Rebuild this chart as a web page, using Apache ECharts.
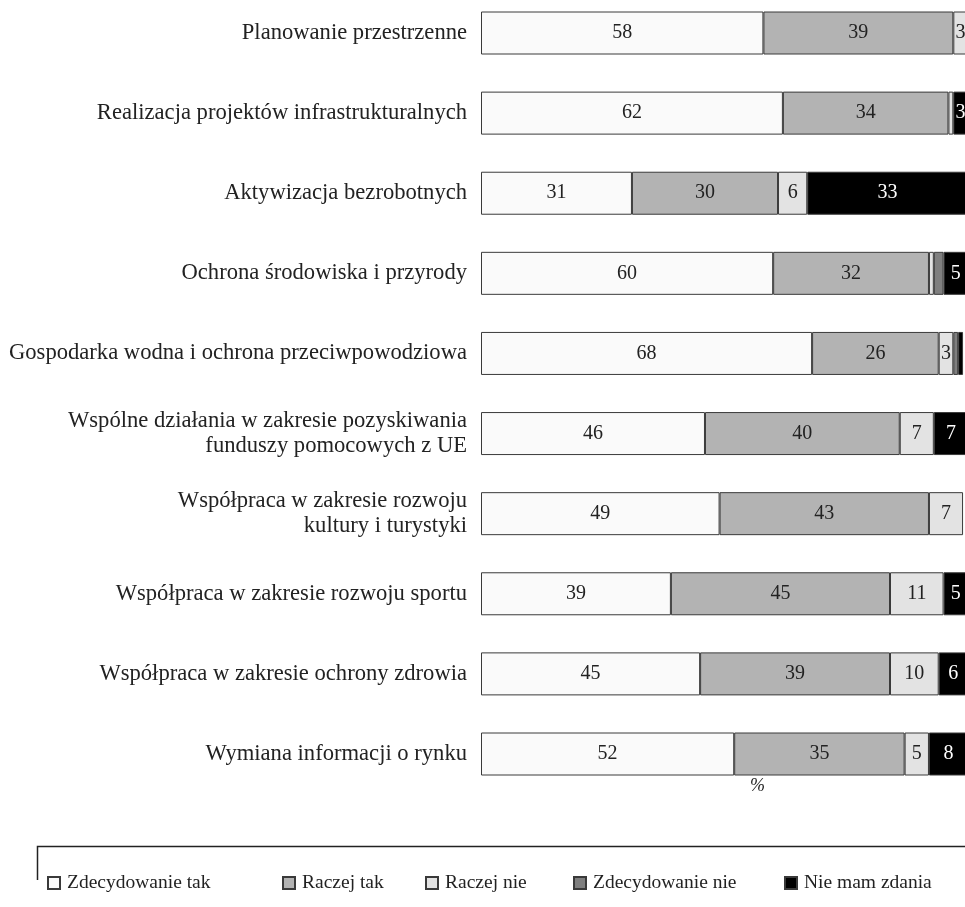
<!DOCTYPE html>
<html>
<head>
<meta charset="utf-8">
<script src="https://cdn.jsdelivr.net/npm/echarts@6/dist/echarts.min.js"></script>
<style>
  html, body { margin: 0; padding: 0; background: #ffffff; }
  #chart { width: 965px; height: 907px; }
</style>
</head>
<body>
<div id="chart"></div>
<script>
// Areas of cooperation (top to bottom)
const categories = [
  'Planowanie przestrzenne',
  'Realizacja projektów infrastrukturalnych',
  'Aktywizacja bezrobotnych',
  'Ochrona środowiska i przyrody',
  'Gospodarka wodna i ochrona przeciwpowodziowa',
  'Wspólne działania w zakresie pozyskiwania\nfunduszy pomocowych z UE',
  'Współpraca w zakresie rozwoju\nkultury i turystyki',
  'Współpraca w zakresie rozwoju sportu',
  'Współpraca w zakresie ochrony zdrowia',
  'Wymiana informacji o rynku'
];

// Answer shares, %
const zdecydowanieTak = [58, 62, 31, 60, 68, 46, 49, 39, 45, 52];
const raczejTak       = [39, 34, 30, 32, 26, 40, 43, 45, 39, 35];
const raczejNie       = [3, 1, 6, 1, 3, 7, 7, 11, 10, 5];
const zdecydowanieNie = [0, 0, 0, 2, 1, 0, 0, 0, 0, 0];
const nieMamZdania    = [0, 3, 33, 5, 1, 7, 0, 5, 6, 8];

const seriesNames = ['Zdecydowanie tak', 'Raczej tak', 'Raczej nie', 'Zdecydowanie nie', 'Nie mam zdania'];
const seriesData = [zdecydowanieTak, raczejTak, raczejNie, zdecydowanieNie, nieMamZdania];
const seriesColors = ['#fafafa', '#b3b3b3', '#e3e3e3', '#7f7f7f', '#000000'];
const labelColors = ['#222222', '#222222', '#222222', '#ffffff', '#ffffff'];

// x positions of the legend entries in the framed key below the chart
const legendLefts = [42, 277, 420, 568, 779];

const FONT = 'Liberation Serif';

const chart = echarts.init(document.getElementById('chart'), null, { renderer: 'canvas' });

const series = seriesNames.map((name, i) => ({
  name: name,
  type: 'bar',
  stack: 'total',
  barWidth: 43,
  clip: false,
  data: seriesData[i].map(v => (v === 0 ? '-' : v)),
  itemStyle: {
    color: seriesColors[i],
    borderColor: '#3a3a3a',
    borderWidth: 1
  },
  label: {
    show: true,
    position: 'inside',
    color: labelColors[i],
    fontFamily: FONT,
    fontSize: 20,
    formatter: p => (p.value >= 3 ? String(p.value) : '')
  },
  emphasis: { disabled: true },
  animation: false
}));

chart.setOption({
  backgroundColor: '#ffffff',
  animation: false,
  // the axis runs a little past the page edge, so 100% sits just outside it
  grid: {
    left: 481, right: 0, top: 33, height: 721,
    containLabel: false,
    outerBoundsMode: 'none'
  },
  xAxis: {
    type: 'value',
    min: 0,
    max: 99.4,
    show: false
  },
  yAxis: {
    type: 'category',
    inverse: true,
    boundaryGap: false,
    data: categories,
    axisLine: { show: false },
    axisTick: { show: false },
    splitLine: { show: false },
    axisLabel: {
      margin: 14,
      align: 'right',
      fontFamily: FONT,
      fontSize: 22.6,
      lineHeight: 25,
      color: '#222222'
    }
  },
  legend: seriesNames.map((name, i) => ({
    data: [name],
    left: legendLefts[i],
    top: 868,
    icon: 'rect',
    itemWidth: 12,
    itemHeight: 12,
    selectedMode: false,
    textStyle: { fontFamily: FONT, fontSize: 19.5, color: '#222222', padding: [0, 0, 0, 2] }
  })),
  graphic: [
    {
      type: 'text',
      left: 750,
      top: 777,
      style: { text: '%', font: 'italic 18px "Liberation Serif"', fill: '#222222' }
    },
    {
      type: 'polyline',
      shape: { points: [[37.5, 880], [37.5, 846.5], [966, 846.5]] },
      style: { stroke: '#222222', lineWidth: 1.5, fill: null }
    }
  ],
  series: series
});
</script>
</body>
</html>
